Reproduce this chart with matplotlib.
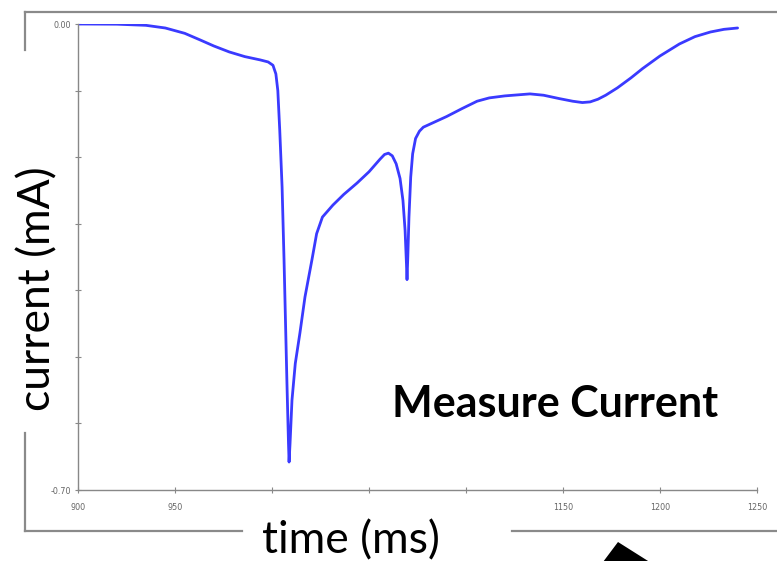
import matplotlib.pyplot as plt
from matplotlib.patches import Polygon
from matplotlib.lines import Line2D

W, H = 777, 561

time_ms = [900, 920, 935, 945, 955, 963, 970, 978, 986, 994, 998, 1000.5, 1002, 1003,
           1004, 1005.2, 1006.2, 1007.7, 1008.5, 1008.8, 1009.3, 1010.3, 1012, 1014.4,
           1017, 1020.6, 1023, 1026, 1031.4, 1037, 1043.8, 1050, 1055.7, 1058, 1060,
           1062, 1064, 1066, 1067.5, 1068.6, 1069.3, 1069.6, 1070, 1070.6, 1071.5,
           1072.5, 1074, 1076, 1078, 1084, 1090, 1098, 1105.7, 1112, 1120, 1133, 1140,
           1148, 1155, 1160, 1164, 1168, 1172, 1178, 1185, 1191, 1200, 1210, 1218,
           1226, 1233, 1240]
current_ma = [0.0, -0.0003, -0.002, -0.006, -0.014, -0.024, -0.033, -0.042, -0.049,
              -0.054, -0.057, -0.062, -0.075, -0.100, -0.160, -0.245, -0.354, -0.539,
              -0.630, -0.658, -0.630, -0.565, -0.510, -0.464, -0.410, -0.354, -0.315,
              -0.290, -0.272, -0.256, -0.239, -0.222, -0.203, -0.196, -0.194, -0.198,
              -0.210, -0.232, -0.265, -0.310, -0.360, -0.384, -0.350, -0.290, -0.230,
              -0.195, -0.172, -0.161, -0.155, -0.147, -0.139, -0.127, -0.116, -0.111,
              -0.108, -0.105, -0.107, -0.112, -0.116, -0.118, -0.117, -0.113, -0.107,
              -0.096, -0.081, -0.067, -0.048, -0.030, -0.019, -0.012, -0.008, -0.006]

x_ticks = [900, 950, 1000, 1050, 1100, 1150, 1200, 1250]
x_tick_labels = ["900", "950", "", "", "", "1150", "1200", "1250"]
y_ticks = [0.0, -0.1, -0.2, -0.3, -0.4, -0.5, -0.6, -0.7]
y_tick_labels = ["0.00", "", "", "", "", "", "", "-0.70"]

fig = plt.figure(figsize=(W / 100, H / 100), dpi=100)
fig.patch.set_facecolor("white")

def fx(px):
    return px / W

def fy(py):
    return (H - py) / H

ax = fig.add_axes([fx(78), fy(490), fx(757) - fx(78), fy(24) - fy(490)])
ax.plot(time_ms, current_ma, color="#3a3aff", linewidth=2.0,
        solid_joinstyle="round", solid_capstyle="round")
ax.set_xlim(900, 1250)
ax.set_ylim(-0.70, 0.0)
ax.set_xticks(x_ticks)
ax.set_xticklabels(x_tick_labels)
ax.set_yticks(y_ticks)
ax.set_yticklabels(y_tick_labels)
for s in ["top", "right"]:
    ax.spines[s].set_visible(False)
for s in ["left", "bottom"]:
    ax.spines[s].set_color("#888888")
    ax.spines[s].set_linewidth(1.0)
ax.tick_params(axis="both", colors="#888888", labelcolor="#666666", labelsize=5.8,
               direction="inout", length=4, width=0.8)
ax.tick_params(axis="x", pad=7)
ax.tick_params(axis="y", pad=3)

# slide frame around the chart, broken where the axis titles sit
frame = dict(color="#8a8a8a", linewidth=1.6)
fig.add_artist(Line2D([fx(25), 1.0], [fy(12), fy(12)], **frame))
fig.add_artist(Line2D([fx(25), fx(25)], [fy(12), fy(50)], **frame))
fig.add_artist(Line2D([fx(25), fx(25)], [fy(433), fy(531)], **frame))
fig.add_artist(Line2D([fx(25), fx(242)], [fy(531), fy(531)], **frame))
fig.add_artist(Line2D([fx(512), 1.0], [fy(531), fy(531)], **frame))

fig.text(fx(351), fy(553), "time (ms)", ha="center", va="baseline",
         fontsize=32, family="Lato", color="black")
fig.text(fx(38), fy(289), "current (mA)", ha="center", va="center", rotation=90,
         fontsize=32, family="Lato", color="black")
fig.text(fx(555), fy(417), "Measure Current", ha="center", va="baseline",
         fontsize=31, family="Lato", fontweight="bold", color="black")

# arrow head poking in at the bottom edge
fig.add_artist(Polygon([[fx(618), fy(542)], [fx(600), fy(566)], [fx(656), fy(566)]],
                       closed=True, facecolor="black", edgecolor="none",
                       transform=fig.transFigure))

fig.savefig("out.png", dpi=100, facecolor="white")
